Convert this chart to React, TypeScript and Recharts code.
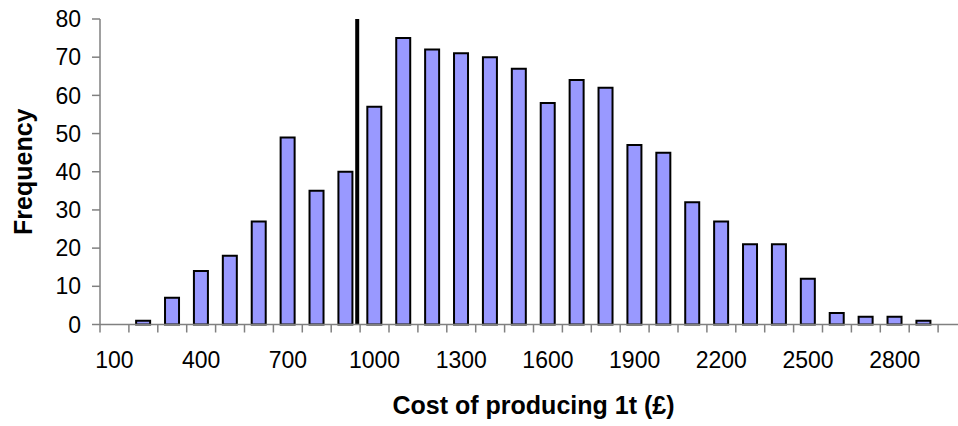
import React from 'react';
import { BarChart, Bar, XAxis, YAxis, ReferenceLine, Label } from 'recharts';

const costBins = [
  100, 200, 300, 400, 500, 600, 700, 800, 900, 1000,
  1100, 1200, 1300, 1400, 1500, 1600, 1700, 1800, 1900, 2000,
  2100, 2200, 2300, 2400, 2500, 2600, 2700, 2800, 2900, 3000,
];

const frequency = [
  0, 1, 7, 14, 18, 27, 49, 35, 40, 57,
  75, 72, 71, 70, 67, 58, 64, 62, 47, 45,
  32, 27, 21, 21, 12, 3, 2, 2, 1, 0,
];

const yTicks = [0, 10, 20, 30, 40, 50, 60, 70, 80];

// cost marker drawn as the thick vertical line
const markerCost = 940;

const data = costBins.map((cost, i) => ({ cost, freq: frequency[i] }));

// boundaries between the bins, for the tick marks
const binEdges = [...costBins.map((c) => c - 50), costBins[costBins.length - 1] + 50];

const FONT = '"Liberation Sans", Arial, sans-serif';
const AXIS_GRAY = '#808080';

const App: React.FC = () => {
  return (
    <div
      style={{
        position: 'absolute',
        left: 0,
        top: 0,
        width: 958,
        height: 426,
        overflow: 'hidden',
        background: '#ffffff',
      }}
    >
      <BarChart
        width={967}
        height={426}
        data={data}
        margin={{ top: 19, right: 0, left: 0, bottom: 0 }}
        barCategoryGap="25%"
      >
        <XAxis
          xAxisId="b"
          dataKey="cost"
          interval={2}
          axisLine={false}
          tickLine={false}
          tickSize={0}
          tickMargin={19}
          height={93.5}
          tick={{ fill: '#000', fontSize: 23, fontFamily: FONT }}
        >
          <Label
            content={({ viewBox }: any) => (
              <text
                x={viewBox.x + viewBox.width / 2}
                y={405}
                textAnchor="middle"
                dominantBaseline="central"
                fontFamily={FONT}
                fontSize={25}
                fontWeight="bold"
                fill="#000"
              >
                Cost of producing 1t (£)
              </text>
            )}
          />
        </XAxis>
        <XAxis
          xAxisId="a"
          dataKey="cost"
          type="number"
          domain={[binEdges[0], binEdges[binEdges.length - 1]]}
          allowDataOverflow
          ticks={binEdges}
          interval={0}
          tick={() => <g />}
          tickSize={8}
          height={8}
          axisLine={{ stroke: AXIS_GRAY, strokeWidth: 1.5 }}
          tickLine={{ stroke: AXIS_GRAY, strokeWidth: 1.5 }}
        />
        <YAxis
          domain={[0, 80]}
          ticks={yTicks}
          interval={0}
          width={100}
          tickSize={8}
          tickMargin={11}
          axisLine={{ stroke: AXIS_GRAY, strokeWidth: 1.5 }}
          tickLine={{ stroke: AXIS_GRAY, strokeWidth: 1.5 }}
          tick={{ fill: '#000', fontSize: 23, fontFamily: FONT }}
        >
          <Label
            content={({ viewBox }: any) => {
              const cy = viewBox.y + viewBox.height / 2;
              return (
                <text
                  x={23}
                  y={cy}
                  transform={`rotate(-90, 23, ${cy})`}
                  textAnchor="middle"
                  dominantBaseline="central"
                  fontFamily={FONT}
                  fontSize={25}
                  fontWeight="bold"
                  fill="#000"
                >
                  Frequency
                </text>
              );
            }}
          />
        </YAxis>
        <Bar
          xAxisId="b"
          dataKey="freq"
          fill="#9999ff"
          stroke="#000"
          strokeWidth={2}
          isAnimationActive={false}
        />
        <ReferenceLine xAxisId="a" x={markerCost} stroke="#000" strokeWidth={4} />
      </BarChart>
    </div>
  );
};

export default App;
